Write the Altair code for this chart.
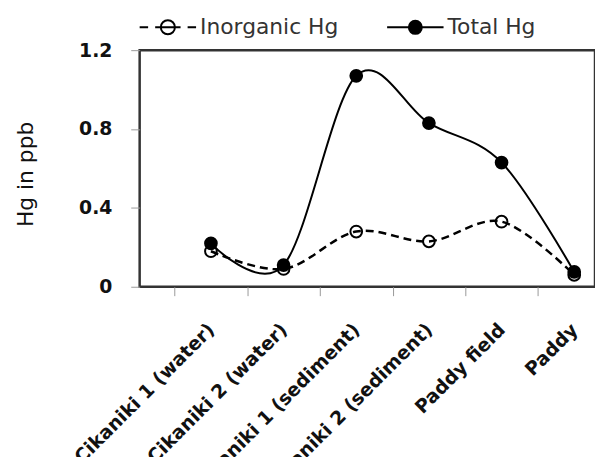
import json
import altair as alt
import pandas as pd

categories = ["Cikaniki 1 (water)", "Cikaniki 2 (water)", "Cikaniki 1 (sediment)",
              "Cikaniki 2 (sediment)", "Paddy field", "Paddy"]
inorganic_hg = [0.18, 0.09, 0.28, 0.23, 0.33, 0.06]
total_hg = [0.22, 0.11, 1.07, 0.83, 0.63, 0.075]
series_names = ["Inorganic Hg", "Total Hg"]
y_ticks = [0, 0.4, 0.8, 1.2]

rows = []
for i, c in enumerate(categories):
    rows.append({"idx": i, "site": c, "series": series_names[0], "value": inorganic_hg[i]})
    rows.append({"idx": i, "site": c, "series": series_names[1], "value": total_hg[i]})
df = pd.DataFrame(rows)

label_expr = json.dumps(categories) + "[datum.value]"

x_enc = alt.X(
    "idx:Q",
    scale=alt.Scale(domain=[-0.981, 5.286], nice=False, zero=False),
    axis=alt.Axis(
        values=list(range(len(categories))), title=None, grid=False, domain=False,
        tickOffset=-36.7, labelOffset=36.7, tickSize=9, tickColor="#999", tickWidth=1,
        labelExpr=label_expr, labelAngle=-45, labelAlign="right", labelBaseline="middle",
        labelPadding=31, labelFont="DejaVu Sans", labelFontWeight="bold", labelFontSize=19,
        labelColor="#111", labelOverlap=False, labelFlush=False, labelLimit=0, labelBound=False,
    ),
)
y_enc = alt.Y(
    "value:Q",
    scale=alt.Scale(domain=[0, 1.2], nice=False, zero=True),
    axis=alt.Axis(
        values=y_ticks, title="Hg in ppb", grid=False, domain=False,
        tickSize=9, tickColor="#999", tickWidth=1,
        labelExpr="datum.value == 0 ? '0' : format(datum.value, '.1f')",
        labelPadding=19, labelFont="DejaVu Sans", labelFontWeight="bold", labelFontSize=19,
        labelColor="#111",
        titleFont="DejaVu Sans", titleFontWeight="normal", titleFontSize=22, titleColor="#111",
        titleX=-108, titleY=125, titleBaseline="alphabetic", titleAlign="center", titleAngle=-90,
    ),
)

fill_scale = alt.Scale(domain=series_names, range=["transparent", "black"])
stroke_scale = alt.Scale(domain=series_names, range=["black", "black"])

path_inorg = ("M-1,0H-0.7M-0.45,0H0.45M0.7,0H1"
              "M-0.25,0A0.25,0.25,0,1,0,0.25,0A0.25,0.25,0,1,0,-0.25,0Z")
path_total = ("M-1,0H1"
              "M-0.23,0A0.23,0.23,0,1,0,0.23,0A0.23,0.23,0,1,0,-0.23,0Z")
shape_scale = alt.Scale(domain=series_names, range=[path_inorg, path_total])

legend_def = alt.Legend(
    title=None, orient="none", legendX=-1, legendY=-52.8, direction="horizontal",
    symbolSize=3249, symbolStrokeWidth=2, symbolStrokeColor="black", symbolOpacity=1,
    labelFont="DejaVu Sans", labelFontSize=22, labelColor="#333", labelOffset=3,
    labelLimit=400, columnPadding=45, padding=0,
)

base = alt.Chart(df)

line_inorg = base.transform_filter(alt.datum.series == series_names[0]).mark_line(
    interpolate="cardinal", color="black", strokeWidth=2.5, strokeDash=[8, 5]
).encode(x=x_enc, y=y_enc)

line_total = base.transform_filter(alt.datum.series == series_names[1]).mark_line(
    interpolate="cardinal", color="black", strokeWidth=2
).encode(x=x_enc, y=y_enc)

points = base.mark_point(filled=False, size=140, strokeWidth=2, opacity=1).encode(
    x=x_enc, y=y_enc,
    fill=alt.Fill("series:N", scale=fill_scale, legend=legend_def),
    stroke=alt.Stroke("series:N", scale=stroke_scale, legend=legend_def),
)

legend_layer = base.mark_point(filled=False, strokeWidth=2, opacity=0).encode(
    x=x_enc, y=y_enc,
    fill=alt.Fill("series:N", scale=fill_scale, legend=legend_def),
    stroke=alt.Stroke("series:N", scale=stroke_scale, legend=legend_def),
    shape=alt.Shape("series:N", scale=shape_scale, legend=legend_def),
)

chart = alt.layer(line_inorg, line_total, points, legend_layer).properties(
    width=460, height=239,
    autosize=alt.AutoSizeParams(type="none"),
    padding={"left": 133, "top": 40.3, "right": 0, "bottom": 170},
).configure_view(stroke="#333", strokeWidth=2.5)

chart.save("out.html", embed_options={"renderer": "svg", "actions": False})
